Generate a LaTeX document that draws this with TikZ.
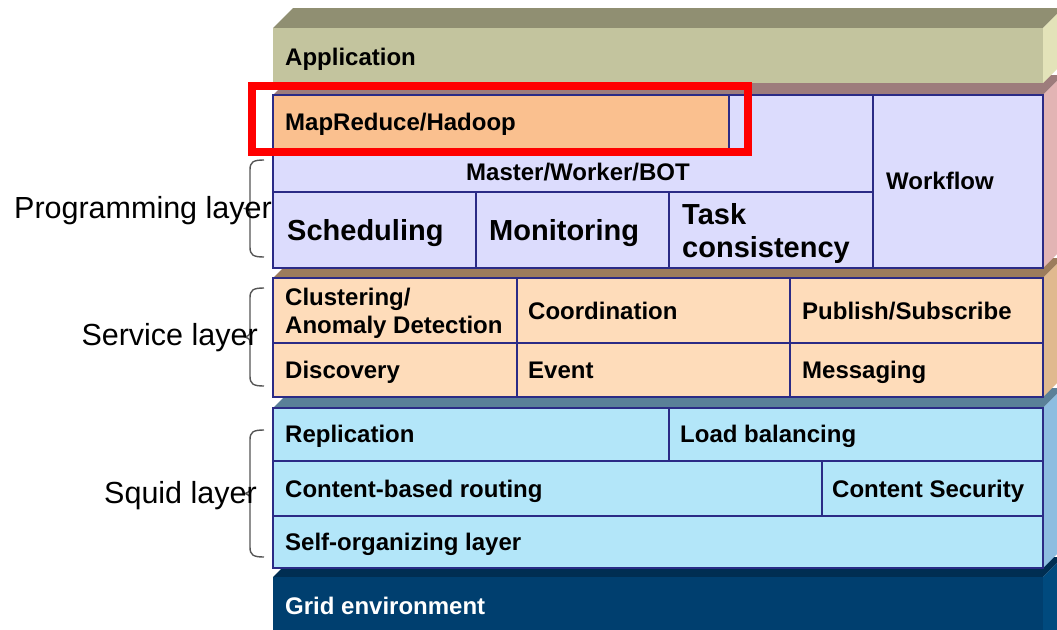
\documentclass[tikz,border=0pt]{standalone}
\usepackage{fontspec}
\setmainfont{Liberation Sans}
\definecolor{appFront}{HTML}{C3C49E}
\definecolor{appTop}{HTML}{908F72}
\definecolor{appSide}{HTML}{E3E3B9}
\definecolor{progTop}{HTML}{9D7C7C}
\definecolor{progSide}{HTML}{E2B4B4}
\definecolor{lav}{HTML}{DCDCFD}
\definecolor{mrOrange}{HTML}{FAC08F}
\definecolor{servFront}{HTML}{FEDCBA}
\definecolor{servTop}{HTML}{9C7C5C}
\definecolor{servSide}{HTML}{E0B98F}
\definecolor{sqFront}{HTML}{B3E6F9}
\definecolor{sqTop}{HTML}{5A8098}
\definecolor{sqSide}{HTML}{8DBDE0}
\definecolor{gridFront}{HTML}{003F6F}
\definecolor{gridTop}{HTML}{002E52}
\definecolor{gridSide}{HTML}{004A7E}
\definecolor{cellBorder}{HTML}{2B2B86}
\definecolor{braceGray}{HTML}{555555}

% one layer slab: front top y, front bottom y, front / top / side colours
\newcommand\drawslab[5]{%
  \fill[#4] (273,#1) -- (293,#1-20) -- (1063,#1-20) -- (1043,#1) -- cycle;
  \fill[#5] (1043,#1) -- (1063,#1-20) -- (1063,#2-20) -- (1043,#2) -- cycle;
  \fill[#3] (273,#1) rectangle (1043,#2);}

% curly brace on the left of a layer: top y, bottom y
\newcommand\layerbrace[2]{%
  \draw[bracestyle] (264,#1) .. controls (253,#1) and (250,#1+2) .. (250,#1+10)
    -- (250,{(#1+#2)/2-8}) .. controls (250,{(#1+#2)/2-2}) .. (245,{(#1+#2)/2})
    .. controls (250,{(#1+#2)/2+2}) .. (250,{(#1+#2)/2+8})
    -- (250,#2-10) .. controls (250,#2-2) and (253,#2) .. (264,#2);}

\begin{document}
\begin{tikzpicture}[x=1pt,y=-1pt,
  cell/.style={draw=cellBorder, line width=1.3pt},
  lbl/.style={anchor=base west, inner sep=0pt, font=\fontsize{24}{28}\selectfont\bfseries},
  biglbl/.style={anchor=base west, inner sep=0pt, font=\fontsize{29}{33}\selectfont\bfseries},
  sidelbl/.style={anchor=base east, inner sep=0pt, font=\fontsize{30.5}{34}\selectfont},
  bracestyle/.style={draw=braceGray, line width=1.4pt}]
\useasboundingbox (0,0) rectangle (1057,629);

\begin{scope}
\clip (0,0) rectangle (1057,629);
% slabs, bottom to top
\drawslab{577}{650}{gridFront}{gridTop}{gridSide}
\drawslab{408}{568}{sqFront}{sqTop}{sqSide}
\drawslab{278}{397}{servFront}{servTop}{servSide}
\drawslab{95}{268}{lav}{progTop}{progSide}
\drawslab{28}{83}{appFront}{appTop}{appSide}
\end{scope}

% programming layer cells
\filldraw[cell, fill=lav] (273,95) rectangle (873,192);
\filldraw[cell, fill=mrOrange] (273,95) rectangle (729,149);
\filldraw[cell, fill=lav] (873,95) rectangle (1043,268);
\filldraw[cell, fill=lav] (273,192) rectangle (476,268);
\filldraw[cell, fill=lav] (476,192) rectangle (669,268);
\filldraw[cell, fill=lav] (669,192) rectangle (873,268);

% service layer cells
\filldraw[cell, fill=servFront] (273,278) rectangle (517,343);
\filldraw[cell, fill=servFront] (517,278) rectangle (790,343);
\filldraw[cell, fill=servFront] (790,278) rectangle (1043,343);
\filldraw[cell, fill=servFront] (273,343) rectangle (517,397);
\filldraw[cell, fill=servFront] (517,343) rectangle (790,397);
\filldraw[cell, fill=servFront] (790,343) rectangle (1043,397);

% squid layer cells
\filldraw[cell, fill=sqFront] (273,408) rectangle (669,461);
\filldraw[cell, fill=sqFront] (669,408) rectangle (1043,461);
\filldraw[cell, fill=sqFront] (273,461) rectangle (822,516);
\filldraw[cell, fill=sqFront] (822,461) rectangle (1043,516);
\filldraw[cell, fill=sqFront] (273,516) rectangle (1043,568);

% labels
\node[lbl] (app) at (285,65.5) {Application};
\node[lbl] (mr) at (285,130.5) {MapReduce/Hadoop};
\node[lbl, anchor=base] (mw) at (578,180.5) {Master/Worker/BOT};
\node[lbl] (wf) at (886,189.5) {Workflow};
\node[biglbl] (sched) at (287,240.5) {Scheduling};
\node[biglbl] (mon) at (489,240.5) {Monitoring};
\node[biglbl] (task1) at (682,224.5) {Task};
\node[biglbl] (task2) at (682,257.5) {consistency};

\node[lbl] (clu1) at (285,305.5) {Clustering/};
\node[lbl] (clu2) at (285,333.5) {Anomaly Detection};
\node[lbl] (coord) at (528,319.5) {Coordination};
\node[lbl] (pubsub) at (802,319.5) {Publish/Subscribe};
\node[lbl] (disc) at (285,378.5) {Discovery};
\node[lbl] (event) at (528,378.5) {Event};
\node[lbl] (msg) at (802,378.5) {Messaging};

\node[lbl] (repl) at (285,442.5) {Replication};
\node[lbl] (lb) at (680,442.5) {Load balancing};
\node[lbl] (cbr) at (285,497.5) {Content-based routing};
\node[lbl] (csec) at (832,497.5) {Content Security};
\node[lbl] (selforg) at (285,550.5) {Self-organizing layer};
\node[lbl, text=white] (grid) at (285,614.5) {Grid environment};

% layer braces and names
\layerbrace{160}{257}
\layerbrace{288}{386}
\layerbrace{430}{557}
\node[sidelbl] (proglayer) at (272,218) {Programming layer};
\node[sidelbl] (servlayer) at (258,345) {Service layer};
\node[sidelbl] (squidlayer) at (257,503) {Squid layer};

% highlight frame
\draw[red, line width=8pt] (252,86) rectangle (748,152);
\end{tikzpicture}
\end{document}
